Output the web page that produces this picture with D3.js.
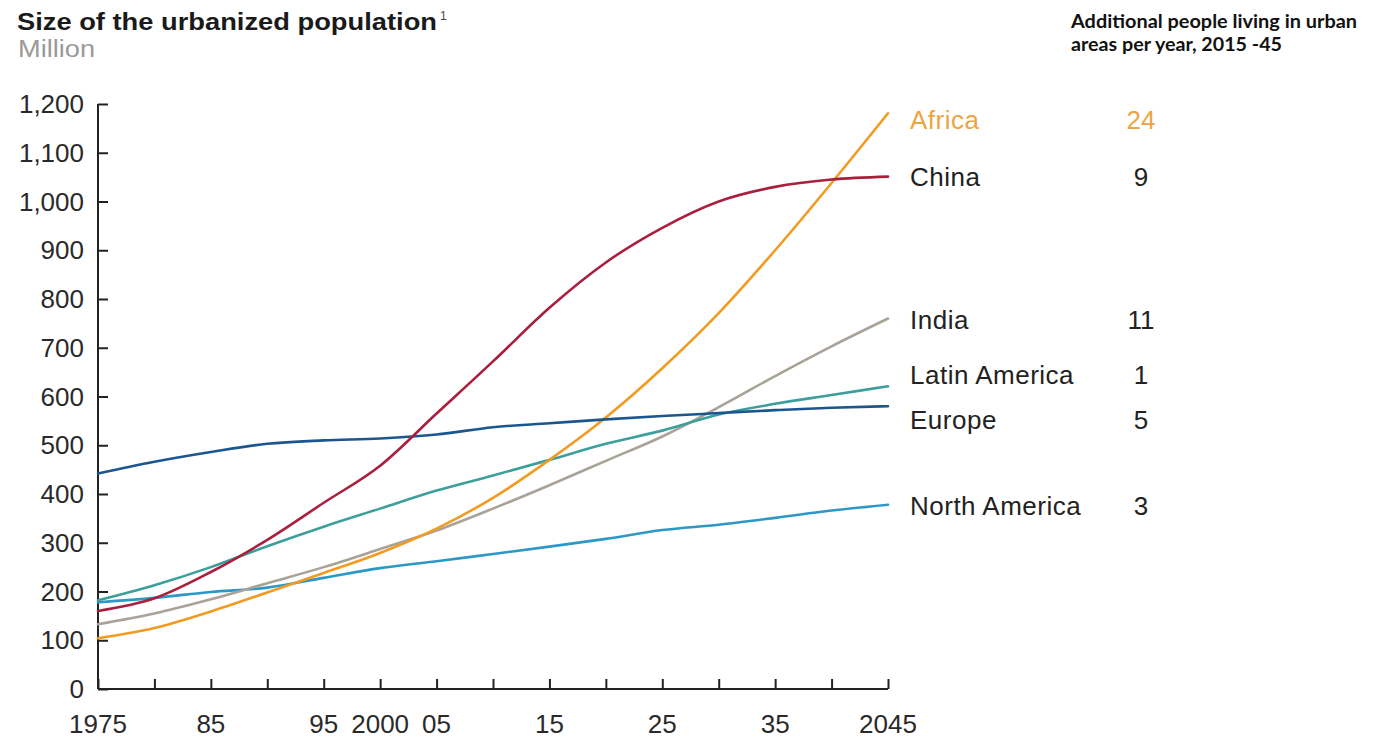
<!DOCTYPE html>
<html>
<head>
<meta charset="utf-8">
<script src="https://cdn.jsdelivr.net/npm/d3@7"></script>
<style>
  body { margin: 0; background: #fff; }
  svg { display: block; font-family: "Liberation Sans", Arial, Helvetica, sans-serif; }
</style>
</head>
<body>
<div id="chart"></div>
<script>
// years sampled every 5 years
const years = [1975, 1980, 1985, 1990, 1995, 2000, 2005, 2010, 2015, 2020, 2025, 2030, 2035, 2040, 2045];

// urbanized population, million
const africa       = [104, 125, 159, 198, 238, 279, 329, 392, 470, 557, 658, 771, 900, 1038, 1181];
const china        = [160, 186, 240, 306, 382, 458, 565, 672, 782, 875, 946, 1000, 1030, 1045, 1051];
const india        = [133, 155, 184, 217, 250, 287, 325, 370, 418, 468, 518, 578, 642, 703, 760];
const latinAmerica = [182, 213, 250, 293, 333, 370, 407, 438, 470, 503, 530, 563, 585, 603, 621];
const europe       = [442, 466, 486, 503, 510, 514, 522, 537, 545, 553, 560, 566, 572, 577, 580];
const northAmerica = [178, 187, 199, 208, 228, 248, 262, 277, 292, 308, 326, 337, 351, 366, 378];

// legend: region names and additional urban people per year, 2015-45
const regions = ["Africa", "China", "India", "Latin America", "Europe", "North America"];
const additional = [24, 9, 11, 1, 5, 3];

const yTicks = [0, 100, 200, 300, 400, 500, 600, 700, 800, 900, 1000, 1100, 1200];
const xTicks = [1975, 1980, 1985, 1990, 1995, 2000, 2005, 2010, 2015, 2020, 2025, 2030, 2035, 2040, 2045];
const xLabelYears = [1975, 1985, 1995, 2000, 2005, 2015, 2025, 2035, 2045];
const xLabels = ["1975", "85", "95", "2000", "05", "15", "25", "35", "2045"];

const seriesValues = [africa, china, india, latinAmerica, europe, northAmerica];
const colors = ["#f29b22", "#a91f3d", "#a9a297", "#3c9f9c", "#1c568f", "#2c98c6"];
const labelColors = ["#eda443", "#222", "#222", "#222", "#222", "#222"];
const labelBaselines = [129, 186, 329, 384, 429, 515];

const width = 1381, height = 738;
const margin = { top: 104, right: 493, bottom: 49, left: 98 };

const svg = d3.select("#chart")
  .append("svg")
  .attr("width", width)
  .attr("height", height);

const x = d3.scaleLinear()
  .domain([1975, 2045])
  .range([margin.left, width - margin.right]);

const y = d3.scaleLinear()
  .domain([0, 1200])
  .range([height - margin.bottom, margin.top]);

// titles
svg.append("text")
  .attr("x", 17)
  .attr("y", 30)
  .attr("textLength", 420)
  .attr("lengthAdjust", "spacingAndGlyphs")
  .style("font-size", "23px")
  .style("font-weight", "bold")
  .style("fill", "#1a1a1a")
  .text("Size of the urbanized population");

svg.append("text")
  .attr("x", 440)
  .attr("y", 20)
  .style("font-size", "12px")
  .style("fill", "#444")
  .text("1");

svg.append("text")
  .attr("x", 18)
  .attr("y", 57)
  .attr("textLength", 77)
  .attr("lengthAdjust", "spacingAndGlyphs")
  .style("font-size", "23px")
  .style("fill", "#9a9a9a")
  .text("Million");

const header = svg.append("g")
  .style("font-family", "Lato, 'Open Sans', sans-serif")
  .style("font-weight", "bold")
  .style("font-size", "18px")
  .style("fill", "#111");

header.append("text")
  .attr("x", 1071)
  .attr("y", 28)
  .attr("textLength", 286)
  .attr("lengthAdjust", "spacingAndGlyphs")
  .text("Additional people living in urban");

header.append("text")
  .attr("x", 1071)
  .attr("y", 51)
  .attr("textLength", 211)
  .attr("lengthAdjust", "spacingAndGlyphs")
  .text("areas per year, 2015 -45");

// axes
const yAxis = d3.axisRight(y)
  .tickValues(yTicks)
  .tickSize(10)
  .tickFormat("");

svg.append("g")
  .attr("transform", `translate(${margin.left},0)`)
  .call(yAxis)
  .call(g => g.selectAll("path, line").attr("stroke", "#222").attr("stroke-width", 2))
  .call(g => g.select(".domain").attr("d", `M0,${y(1200)}V${y(0)}`));

svg.append("g")
  .selectAll("text")
  .data(yTicks)
  .join("text")
  .attr("x", margin.left - 14)
  .attr("y", d => y(d))
  .attr("dy", "0.35em")
  .attr("text-anchor", "end")
  .style("font-size", "26px")
  .style("fill", "#2a2a2a")
  .text(d => d3.format(",")(d));

const xAxis = d3.axisTop(x)
  .tickValues(xTicks)
  .tickSize(10)
  .tickFormat("");

svg.append("g")
  .attr("transform", `translate(0,${y(0)})`)
  .call(xAxis)
  .call(g => g.selectAll("path, line").attr("stroke", "#222").attr("stroke-width", 2))
  .call(g => g.select(".domain").attr("d", `M${x(1975)},0H${x(2045)}`));

svg.append("g")
  .selectAll("text")
  .data(xLabelYears)
  .join("text")
  .attr("x", d => x(d))
  .attr("y", 733)
  .attr("text-anchor", "middle")
  .style("font-size", "26px")
  .style("fill", "#2a2a2a")
  .text((d, i) => xLabels[i]);

// lines
const line = d3.line()
  .x((d, i) => x(years[i]))
  .y(d => y(d))
  .curve(d3.curveMonotoneX);

const drawOrder = [5, 2, 3, 0, 4, 1];

svg.append("g")
  .selectAll("path")
  .data(drawOrder)
  .join("path")
  .attr("d", i => line(seriesValues[i]))
  .attr("fill", "none")
  .attr("stroke", i => colors[i])
  .attr("stroke-width", 2.6)
  .attr("stroke-linejoin", "round")
  .attr("stroke-linecap", "round");

// legend labels and values
const legend = svg.append("g")
  .style("font-size", "26px");

legend.selectAll(".name")
  .data(regions)
  .join("text")
  .attr("class", "name")
  .attr("x", 910)
  .attr("y", (d, i) => labelBaselines[i])
  .style("letter-spacing", "0.5px")
  .style("fill", (d, i) => labelColors[i])
  .text(d => d);

legend.selectAll(".value")
  .data(additional)
  .join("text")
  .attr("class", "value")
  .attr("x", 1141)
  .attr("y", (d, i) => labelBaselines[i])
  .attr("text-anchor", "middle")
  .style("fill", (d, i) => labelColors[i])
  .text(d => d);
</script>
</body>
</html>
